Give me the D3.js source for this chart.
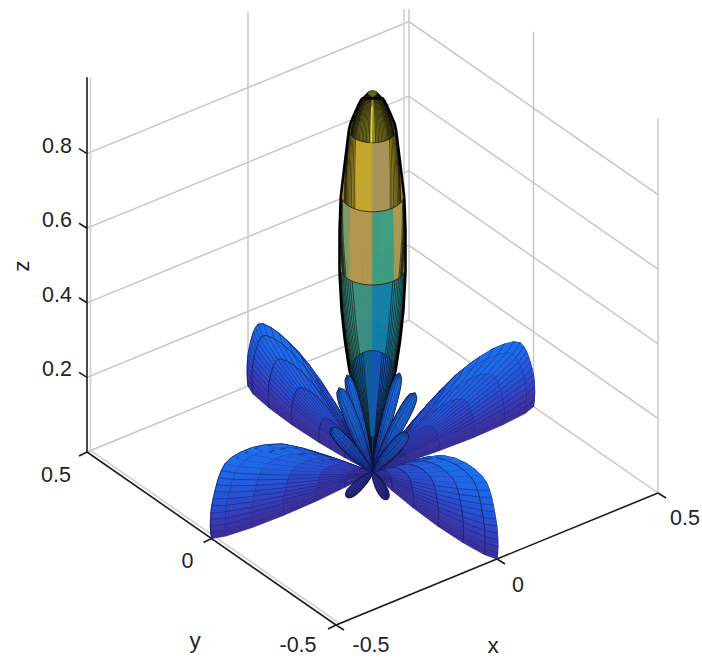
<!DOCTYPE html>
<html>
<head>
<meta charset="utf-8"/>
<script src="https://d3js.org/d3.v7.min.js"></script>
<title>Radiation pattern</title>
<style>
html, body { margin: 0; background: #fff; }
text { font: 21.5px "Liberation Sans", Arial, sans-serif; fill: #222; text-anchor: middle; dominant-baseline: central; }
text.title { font-size: 22.5px; }
</style>
</head>
<body>
<svg width="702" height="659"></svg>
<script>
// ticks
var xTicks = [-0.5, 0, 0.5];
var yTicks = [0.5, 0, -0.5];
var zTicks = [0.2, 0.4, 0.6, 0.8];
var zTop = 1.005;

// main lobe
var mainZ = [0, 0.087, 0.194, 0.275, 0.355, 0.436, 0.535, 0.65, 0.739, 0.83, 0.918, 0.937, 0.999, 1.017];
var mainR = [0, 0.017, 0.039, 0.057, 0.068, 0.076, 0.081, 0.081, 0.078, 0.068, 0.058, 0.054, 0.029, 0.012];
// bands of the main lobe, bottom to top
var bandEdges = [0, 0.11, 0.367, 0.55, 0.744, 0.918, 1.017];
var bandBend = [0, 0, -0.137, 0, 0, 0, 0];
var bandHatchFrom = [10, 20, 38, 72, 46, 10];
var sectorEdges = [-90, -45, 0, 40, 90];
var bandColors = [
  ["#041c2c", "#08304c", "#0c3f78", "#041c2c"],
  ["#0b4c7c", "#0f5f96", "#1a55b6", "#0b5280"],
  ["#3a8f7c", "#3d9080", "#137fa6", "#2a8a90"],
  ["#7e9a66", "#b3974f", "#3f9c80", "#a89a52"],
  ["#b3a02a", "#c4a62c", "#a8925a", "#b3a02a"],
  ["#5c5a16", "#8f8a22", "#8f8a22", "#5c5a16"]
];

// the four big side lobes
var lobeAzimuth = [90, 0, 180, 270];
var lobeLayer = [0, 0, 3, 3];
var lobeElev = [0, 2, 4, 6, 8, 10, 12, 14, 16, 18, 20, 22, 24, 26, 28, 30, 32, 33, 34, 35];
var lobeR = [0.5, 0.503, 0.505, 0.506, 0.507, 0.507, 0.506, 0.505, 0.504, 0.503, 0.5, 0.495, 0.48, 0.455, 0.425, 0.385, 0.335, 0.27, 0.15, 0];
var archScale = [1, 0.93, 0.78, 0.59, 0.38, 0.19, 0.02];
var archStep = 1.5;

// small petals: tip position and half width
var petalX = [-0.044, -0.058, -0.072, 0.047, 0.074, 0.06, -0.135, -0.064];
var petalY = [0.044, 0.058, 0.072, -0.047, -0.074, -0.06, -0.074, -0.139];
var petalZ = [0.255, 0.219, 0.11, 0.27, 0.22, 0.111, 0.02, 0.02];
var petalW = [0.012, 0.015, 0.014, 0.012, 0.015, 0.014, 0.011, 0.011];
var petalLayer = [2.0, 2.1, 2.2, 2.3, 2.4, 2.5, 4.0, 4.1];
var petalT = [0, 0.15, 0.3, 0.45, 0.6, 0.72, 0.82, 0.9, 0.96, 1];
var petalShape = [0, 0.42, 0.7, 0.9, 1, 1, 0.95, 0.82, 0.58, 0];

var zColorStops = [0, 0.03, 0.07, 0.11, 0.16, 0.22];
var zColors = ["#3b2d98", "#3a35aa", "#2f46c4", "#2458d8", "#1f68e6", "#1f74ee"];

var svg = d3.select("svg");

// axes box projection
var cx = 372.5, cy = 472.5;
var xPx = d3.scaleLinear().domain([-0.5, 0.5]).range([-161, 161]),
    xPy = d3.scaleLinear().domain([-0.5, 0.5]).range([66, -66]),
    yPx = d3.scaleLinear().domain([-0.5, 0.5]).range([124.5, -124.5]),
    yPy = d3.scaleLinear().domain([-0.5, 0.5]).range([86.5, -86.5]),
    zPy = d3.scaleLinear().domain([0, 1]).range([0, -373]);

function project(p) {
  return [cx + xPx(p[0]) + yPx(p[1]), cy + xPy(p[0]) + yPy(p[1]) + zPy(p[2])];
}
function depth(p) { return -206 * p[0] - 274 * p[1] + 243 * p[2]; }
function pathOf(pts, close) {
  return "M" + pts.map(function(p) {
    var q = project(p);
    return q[0].toFixed(2) + "," + q[1].toFixed(2);
  }).join("L") + (close ? "Z" : "");
}

var zColor = d3.scaleLinear().domain(zColorStops).range(zColors).clamp(true);
var petalColor = d3.scaleLinear().domain([0, 0.05, 0.12, 0.25]).range(["#1a2a80", "#1b3f9c", "#1a58bc", "#1c68d4"]).clamp(true);
var radiusAt = d3.scaleLinear().domain(mainZ).range(mainR).clamp(true);

var defs = svg.append("defs");
defs.append("clipPath").attr("id", "top").append("rect")
    .attr("x", 0).attr("y", 9).attr("width", 702).attr("height", 650);
defs.append("filter").attr("id", "soft").append("feGaussianBlur").attr("stdDeviation", 0.4);

// grid and walls
var grid = [];
zTicks.forEach(function(z) {
  grid.push([[-0.5, 0.5, z], [0.5, 0.5, z], [0.5, -0.5, z]]);
});
[-0.5, 0, 0.5].forEach(function(t) {
  if (t > -0.5) grid.push([[t, 0.5, 0], [t, 0.5, zTop]]);
  if (t < 0.5) grid.push([[0.5, t, 0], [0.5, t, zTop]]);
});
grid.push([[-0.5, 0.5, 0], [0.5, 0.5, 0], [0.5, -0.5, 0]]);
grid.push([[0, 0.5, 0], [0, -0.5, 0]]);
grid.push([[-0.5, 0, 0], [0.5, 0, 0]]);

svg.append("g").attr("clip-path", "url(#top)").selectAll("path")
  .data(grid)
  .join("path")
    .attr("d", function(d) { return pathOf(d); })
    .attr("fill", "none")
    .attr("stroke", "#c4c4c4")
    .attr("stroke-width", 1.4);

// faint doubles next to the back corner and the left axes
var ghost = svg.append("g").attr("clip-path", "url(#top)").attr("fill", "none")
    .attr("stroke", "#d2d2d2").attr("stroke-width", 1.6);
ghost.append("path").attr("d", pathOf([[0.5, 0.5, 0.02], [0.5, 0.5, zTop]]))
    .attr("transform", "translate(-5,0)");
ghost.append("path").attr("d", pathOf([[-0.5, 0.5, 0], [-0.5, 0.5, zTop]]))
    .attr("transform", "translate(3.5,0)");
ghost.append("path").attr("d", pathOf([[-0.5, 0.5, 0], [-0.5, -0.5, 0]]))
    .attr("transform", "translate(3,-2)");

// axis lines and ticks
var axisG = svg.append("g").attr("fill", "none").attr("stroke", "#1c1c1c");
axisG.append("path").attr("stroke-width", 1.6)
    .attr("d", pathOf([[-0.5, 0.5, zTop], [-0.5, 0.5, 0], [-0.5, -0.5, 0], [0.5, -0.5, 0]]));
var tickMarks = []
  .concat(xTicks.map(function(t) { return { p: [t, -0.5, 0], dx: 8, dy: 5 }; }))
  .concat(yTicks.map(function(t) { return { p: [-0.5, t, 0], dx: -8, dy: 4 }; }))
  .concat(zTicks.map(function(t) { return { p: [-0.5, 0.5, t], dx: -8, dy: -5 }; }));
axisG.selectAll("line.tick")
  .data(tickMarks)
  .join("line")
    .attr("stroke-width", 1.6)
    .attr("x1", function(d) { return project(d.p)[0]; })
    .attr("y1", function(d) { return project(d.p)[1]; })
    .attr("x2", function(d) { return project(d.p)[0] + d.dx; })
    .attr("y2", function(d) { return project(d.p)[1] + d.dy; });

// tick labels, the offsets differ per tick because of the minus sign
var xLabelDx = [35, 21, 27], xLabelDy = [20, 26, 25];
var yLabelDx = [-31, -24, -38], yLabelDy = [23, 22, 20];
var labels = []
  .concat(xTicks.map(function(t, i) { return { t: t, p: [t, -0.5, 0], dx: xLabelDx[i], dy: xLabelDy[i] }; }))
  .concat(yTicks.map(function(t, i) { return { t: t, p: [-0.5, t, 0], dx: yLabelDx[i], dy: yLabelDy[i] }; }))
  .concat(zTicks.map(function(t) { return { t: t, p: [-0.5, 0.5, t], dx: -30, dy: -8 }; }));
svg.append("g").selectAll("text")
  .data(labels)
  .join("text")
    .attr("x", function(d) { return project(d.p)[0] + d.dx; })
    .attr("y", function(d) { return project(d.p)[1] + d.dy; })
    .text(function(d) { return String(d.t); });

svg.append("text").attr("class", "title").attr("x", 493).attr("y", 645).text("x");
svg.append("text").attr("class", "title").attr("x", 195).attr("y", 640).text("y");
svg.append("text").attr("class", "title").attr("transform", "translate(21,266) rotate(-90)").text("z");

var facets = [];

// big lobes
lobeAzimuth.forEach(function(az, li) {
  var n = archScale.length - 1;
  function pt(k, i) {
    var r = lobeR[i] * archScale[Math.abs(k)],
        e = lobeElev[i] * Math.PI / 180,
        a = (az + k * archStep) * Math.PI / 180;
    return [r * Math.cos(e) * Math.cos(a), r * Math.cos(e) * Math.sin(a), r * Math.sin(e)];
  }
  for (var k = -n; k < n; k++) {
    for (var i = 0; i < lobeElev.length - 1; i++) {
      var a = pt(k, i), b = pt(k + 1, i), c = pt(k + 1, i + 1), e = pt(k, i + 1);
      var mid = [(a[0] + b[0] + c[0] + e[0]) / 4, (a[1] + b[1] + c[1] + e[1]) / 4, (a[2] + b[2] + c[2] + e[2]) / 4];
      facets.push({
        layer: lobeLayer[li], depth: depth(mid), poly: [a, b, c, e], fill: zColor(mid[2]),
        edges: [
          { d: pathOf([a, b]), stroke: "#1c1f6e", width: 0.5 },
          { d: pathOf([a, e]), stroke: "#14154f", width: 0.7 }
        ]
      });
    }
  }
});

// main lobe, alpha is the angle from the side that faces the viewer
function mainPoint(z, alphaDeg) {
  var al = alphaDeg * Math.PI / 180,
      r = radiusAt(z),
      dx = -0.612 * Math.cos(al) + 0.791 * Math.sin(al),
      dy = -0.791 * Math.cos(al) - 0.612 * Math.sin(al);
  return [r * dx, r * dy, z];
}
function bandZ(edge, alphaDeg) {
  var al = alphaDeg * Math.PI / 180;
  var bend = bandBend[edge] * (1 - Math.abs(Math.cos(al)));
  return Math.max(0, bandEdges[edge] + bend);
}
var mainHatch = [];
var mainSteps = 4, mainCols = 90;
d3.range(bandEdges.length - 1).forEach(function(b) {
  for (var j = 0; j < mainCols; j++) {
    var a0 = -180 + j * 360 / mainCols, a1 = a0 + 360 / mainCols, am = (a0 + a1) / 2;
    var sector = d3.bisectRight(sectorEdges, am) - 1;
    sector = Math.max(0, Math.min(3, sector));
    for (var s = 0; s < mainSteps; s++) {
      var t0 = s / mainSteps, t1 = (s + 1) / mainSteps;
      var z00 = bandZ(b, a0) + (bandZ(b + 1, a0) - bandZ(b, a0)) * t0,
          z01 = bandZ(b, a0) + (bandZ(b + 1, a0) - bandZ(b, a0)) * t1,
          z10 = bandZ(b, a1) + (bandZ(b + 1, a1) - bandZ(b, a1)) * t0,
          z11 = bandZ(b, a1) + (bandZ(b + 1, a1) - bandZ(b, a1)) * t1;
      var p = [mainPoint(z00, a0), mainPoint(z10, a1), mainPoint(z11, a1), mainPoint(z01, a0)];
      facets.push({
        layer: 1, depth: depth(mainPoint((z00 + z11) / 2, am)), poly: p,
        fill: bandColors[b][sector], edges: []
      });
    }
  }
  // feather lines, dense towards the silhouette
  [-1, 1].forEach(function(sign) {
    for (var a = bandHatchFrom[b]; a <= 90; a += (a < 74 ? 5 : 3)) {
      var line = d3.range(0, 7).map(function(q) {
        var t = q / 6,
            al = a * (0.74 + 0.26 * t),
            z = bandZ(b, al) + (bandZ(b + 1, al) - bandZ(b, al)) * t;
        return mainPoint(z, sign * al);
      });
      mainHatch.push(pathOf(line));
    }
  });
});

// petals
petalX.forEach(function(px, pi) {
  var tip = [px, petalY[pi], petalZ[pi]], cols = 12;
  var len = Math.sqrt(tip[0] * tip[0] + tip[1] * tip[1] + tip[2] * tip[2]);
  var ux = [tip[0] / len, tip[1] / len, tip[2] / len];
  // two side vectors across the petal
  var vx = [ux[1] * 0.9 + ux[2] * 0.4, -ux[0] * 0.9, -ux[0] * 0.4];
  var vl = Math.sqrt(vx[0] * vx[0] + vx[1] * vx[1] + vx[2] * vx[2]);
  vx = vx.map(function(v) { return v / vl; });
  var wx = [ux[1] * vx[2] - ux[2] * vx[1], ux[2] * vx[0] - ux[0] * vx[2], ux[0] * vx[1] - ux[1] * vx[0]];
  function pt(i, j) {
    var an = j / cols * 2 * Math.PI, w = petalW[pi] * petalShape[i];
    return [0, 1, 2].map(function(c) {
      return tip[c] * petalT[i] + w * (Math.cos(an) * vx[c] + Math.sin(an) * wx[c]);
    });
  }
  var outline = [];
  for (var i = 0; i < petalShape.length - 1; i++) {
    for (var j = 0; j < cols; j++) {
      var a = pt(i, j), b = pt(i, j + 1), c = pt(i + 1, j + 1), e = pt(i + 1, j);
      var zm = (a[2] + c[2]) / 2;
      outline.push(project(a), project(e));
      facets.push({
        layer: petalLayer[pi],
        depth: depth([(a[0] + c[0]) / 2, (a[1] + c[1]) / 2, zm]),
        poly: [a, b, c, e],
        fill: petalZ[pi] < 0.05 ? "#2c2a86" : petalColor(zm),
        edges: [{ d: pathOf([a, e]), stroke: "#0c1040", width: 0.45 }]
      });
    }
  }
  // dark rim round the petal, drawn under its own facets
  facets.push({
    layer: petalLayer[pi], depth: -1e9,
    rim: "M" + d3.polygonHull(outline).join("L") + "Z"
  });
});

facets.sort(function(a, b) { return d3.ascending(a.layer, b.layer) || d3.ascending(a.depth, b.depth); });

var mainDrawn = false;
var drawList = [];
facets.forEach(function(f) {
  if (f.layer > 1 && !mainDrawn) {
    mainDrawn = true;
    mainHatch.forEach(function(d) { drawList.push({ d: d, stroke: "#0a0a06", width: 0.6, fill: "none" }); });
    var sideL = d3.range(bandEdges[0], 1.0171, 0.017).map(function(z) { return mainPoint(z, -90); }),
        sideR = d3.range(bandEdges[0], 1.0171, 0.017).map(function(z) { return mainPoint(z, 90); });
    drawList.push({ d: pathOf(sideL.concat(sideR.reverse())), stroke: "#050505", width: 2.6, fill: "none" });
    [3, 4, 5].forEach(function(b) {
      var ring = d3.range(-90, 91, 5).map(function(a) { return mainPoint(bandEdges[b], a); });
      drawList.push({ d: pathOf(ring), stroke: "#17170a", width: 0.8, fill: "none" });
    });
    var arch = d3.range(-90, 91, 5).map(function(a) { return mainPoint(bandZ(2, a), a); });
    drawList.push({ d: pathOf(arch), stroke: "#0b2a44", width: 1, fill: "none" });
    // light streak up the nose
    var streak = d3.range(0.918, 1.0, 0.02).map(function(z) { return mainPoint(z, -3); });
    drawList.push({ d: pathOf(streak), stroke: "#d8d040", width: 1.6, fill: "none" });
  }
  if (f.rim) {
    drawList.push({ d: f.rim, stroke: "#070a30", width: 2.2, fill: "#070a30" });
    return;
  }
  drawList.push({ d: pathOf(f.poly, true), stroke: f.fill, width: 0.4, fill: f.fill });
  f.edges.forEach(function(e) { drawList.push({ d: e.d, stroke: e.stroke, width: e.width, fill: "none" }); });
});

svg.append("g").attr("filter", "url(#soft)").selectAll("path")
  .data(drawList)
  .join("path")
    .attr("d", function(d) { return d.d; })
    .attr("fill", function(d) { return d.fill; })
    .attr("stroke", function(d) { return d.stroke; })
    .attr("stroke-width", function(d) { return d.width; })
    .attr("stroke-linejoin", "round");
</script>
</body>
</html>
